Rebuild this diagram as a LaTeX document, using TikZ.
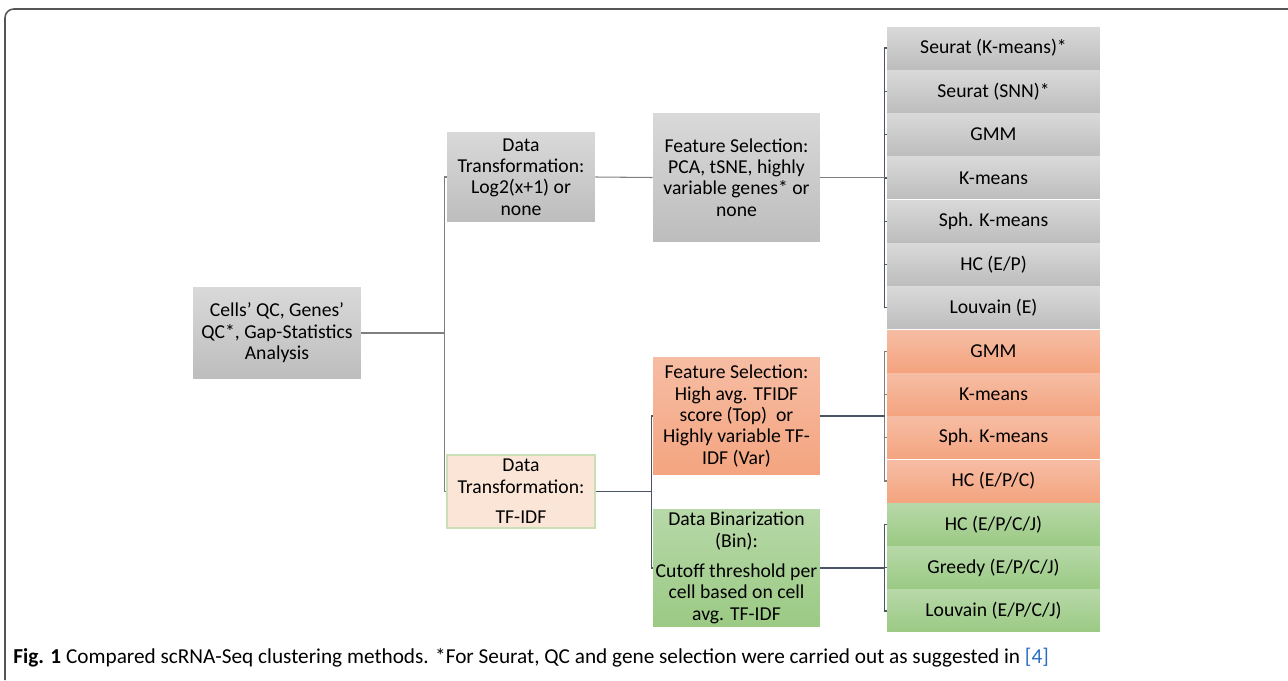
\documentclass[tikz,border=0pt]{standalone}
\usepackage{fontspec}
\setmainfont{Carlito}
\definecolor{greytop}{HTML}{D9D9D9}
\definecolor{greybot}{HTML}{BDBDBD}
\definecolor{orangetop}{HTML}{F6BDA4}
\definecolor{orangebot}{HTML}{F4A47F}
\definecolor{greentop}{HTML}{B7D8A8}
\definecolor{greenbot}{HTML}{9BCA84}
\definecolor{peach}{HTML}{FBE5D6}
\definecolor{peachline}{HTML}{C9E0B6}
\definecolor{linegrey}{HTML}{7F7F7F}
\definecolor{lineslate}{HTML}{4A5466}
\definecolor{framegrey}{HTML}{555555}
\definecolor{citeblue}{HTML}{2B6CC4}
\tikzset{
  box/.style={align=center, inner sep=1pt, font=\fontsize{11.2}{12.2}\selectfont},
  greybox/.style={box, top color=greytop, bottom color=greybot},
  orangebox/.style={box, top color=orangetop, bottom color=orangebot},
  greenbox/.style={box, top color=greentop, bottom color=greenbot},
  peachbox/.style={box, fill=peach, draw=peachline, line width=0.6pt},
  method/.style={minimum width=4.26cm, minimum height=0.84cm},
  conn/.style={draw=linegrey, line width=0.6pt},
  conndark/.style={draw=lineslate, line width=0.7pt}
}
\begin{document}
\begin{tikzpicture}[x=0.02cm, y=-0.02cm]
\useasboundingbox (0,0) rectangle (1288,680);
\draw[framegrey, line width=0.9pt, rounded corners=5pt] (5,680) -- (5,9) -- (1288,9);

\node[greybox, minimum width=3.36cm, minimum height=1.84cm] (root) at (277,333)
  {Cells’ QC, Genes’\\QC*, Gap-Statistics\\Analysis};
\node[greybox, minimum width=2.96cm, minimum height=1.8cm] (dt1) at (521,177)
  {Data\\Transformation:\\Log2(x+1) or\\none};
\node[greybox, minimum width=3.34cm, minimum height=2.58cm] (fs1) at (736.5,177.5)
  {Feature Selection:\\PCA, tSNE, highly\\variable genes* or\\none};
\node[peachbox, minimum width=2.96cm, minimum height=1.46cm] (dt2) at (521,491.5)
  {Data\\Transformation:\\[5pt]TF-IDF};
\node[orangebox, minimum width=3.34cm, minimum height=2.36cm] (fs2) at (736.5,416)
  {Feature Selection:\\High avg. TFIDF\\score (Top)\ \ or\\Highly variable TF-\\IDF (Var)};
\node[greenbox, minimum width=3.34cm, minimum height=2.36cm] (bin) at (736.5,568)
  {Data Binarization\\(Bin):\\[5pt]Cutoff threshold per\\cell based on cell\\avg. TF-IDF};

\foreach \lbl [count=\i] in {Seurat (K-means)*, Seurat (SNN)*, GMM, K-means, Sph. K-means, HC (E/P), Louvain (E)}
  \node[greybox, method] (g\i) at (993.5,{48+43.3*(\i-1)}) {\lbl};
\foreach \lbl [count=\i] in {GMM, K-means, Sph. K-means, HC (E/P/C)}
  \node[orangebox, method] (o\i) at (993.5,{48+43.3*(\i+6)}) {\lbl};
\foreach \lbl [count=\i] in {HC (E/P/C/J), Greedy (E/P/C/J), Louvain (E/P/C/J)}
  \node[greenbox, method] (n\i) at (993.5,{48+43.3*(\i+10)}) {\lbl};

\draw[conn] (dt1.west) -- ++(-2,0) coordinate (j1) |- (dt2.west);
\draw[conn] (root.east) -- (root.east -| j1);
\draw[conn] (dt1.east) -- (fs1.west);

\draw[conndark] (fs2.west) -- ++(-1,0) coordinate (j2) |- (bin.west);
\draw[conndark] (dt2.east) -- (dt2.east -| j2);

\draw[conndark] (g1.west) -- ++(-2,0) coordinate (j3) |- (g7.west);
\foreach \i in {2,...,6} \draw[conndark] (g\i.west) -- (g\i.west -| j3);
\draw[conn] (fs1.east) -- (fs1.east -| j3);

\draw[conn] (o1.west) -- ++(-2,0) coordinate (j4) |- (o4.west);
\foreach \i in {2,3} \draw[conn] (o\i.west) -- (o\i.west -| j4);
\draw[conndark] (fs2.east) -- (fs2.east -| j4);

\draw[conndark] (n1.west) -- ++(-2,0) coordinate (j5) |- (n3.west);
\draw[conndark] (n2.west) -- (n2.west -| j5);
\draw[conndark] (bin.east) -- (bin.east -| j5);

\node[anchor=west, inner sep=0pt, font=\fontsize{12.1}{14}\selectfont] (cap) at (13,658)
  {\textbf{Fig. 1} Compared scRNA-Seq clustering methods. *For Seurat, QC and gene selection were carried out as suggested in {\color{citeblue}[4]}};
\end{tikzpicture}
\end{document}
